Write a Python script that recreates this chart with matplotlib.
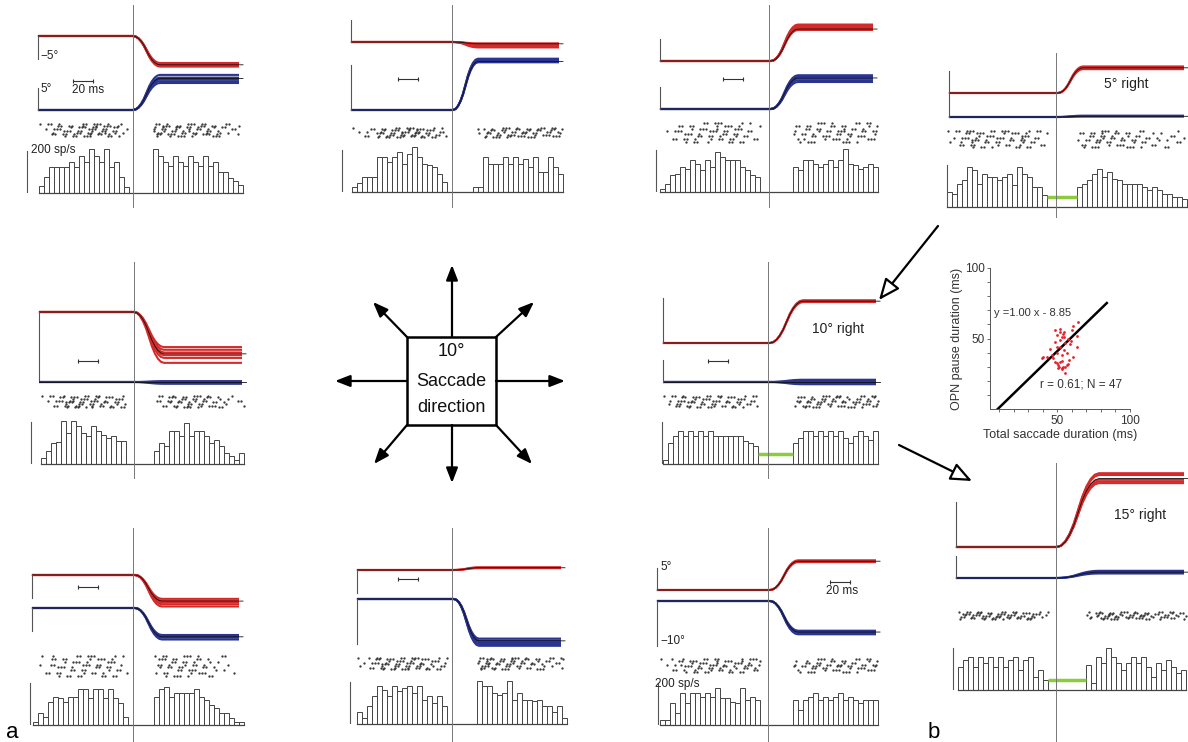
import numpy as np
import matplotlib
matplotlib.use('Agg')
import matplotlib.pyplot as plt
from matplotlib.patches import Rectangle

plt.rcParams['font.family'] = ['Liberation Sans', 'DejaVu Sans']

W, H = 1188, 742

# normalised saccade profile (time fraction, position fraction)
prof_s = [0, .1, .2, .3, .4, .5, .6, .7, .8, .9, 1.0]
prof_p = [0, .02, .08, .18, .32, .5, .68, .82, .92, .98, 1.0]

# end positions (deg) of single trials, horizontal (red) and vertical (blue)
red_trials = {
    'a1': [-6.0, -6.2, -6.4, -6.6, -6.8], 'a2': [-0.3, -0.6, -0.9, -1.2, -0.5],
    'a3': [6.9, 7.2, 7.5, 7.8, 8.1], 'b1': [-7.8, -8.4, -9.0, -9.6, -10.2, -11.3],
    'b3': [9.1, 9.3, 9.5], 'c1': [-5.3, -5.7, -6.1, -6.5, -7.0],
    'c2': [0.4, 0.6, 0.5], 'c3': [6.2, 6.4, 6.6],
    'bt': [5.3, 5.6, 5.9], 'bb': [14.2, 14.6, 15.0, 16.0, 16.4],
}
red_mean = {'a1': -6.4, 'a2': -0.4, 'a3': 7.1, 'b1': -9.3, 'b3': 9.3,
            'c1': -5.8, 'c2': 0.5, 'c3': 6.4, 'bt': 5.6, 'bb': 15.2}
blue_trials = {
    'a1': [6.0, 6.4, 6.8, 7.2, 7.8], 'a2': [10.6, 10.9, 11.2, 11.4],
    'a3': [6.0, 6.4, 6.8, 7.2, 7.5], 'b1': [-0.4, -0.2, 0.0, 0.2],
    'b3': [-0.5, -0.25, 0.0, 0.25, 0.5], 'c1': [-6.0, -6.3, -6.6, -7.0],
    'c2': [-8.8, -9.2, -9.6, -10.0, -10.4], 'c3': [-6.6, -6.9, -7.2, -7.4],
    'bt': [0.1, 0.2, 0.3], 'bb': [1.0, 1.3, 1.6],
}
blue_mean = {'a1': 7.0, 'a2': 10.8, 'a3': 6.9, 'b1': 0.0, 'b3': 0.0,
             'c1': -6.4, 'c2': -9.3, 'c3': -6.9, 'bt': 0.15, 'bb': 1.3}
sacc_onset = {'a1': 0, 'a2': 1, 'a3': 2, 'b1': 0, 'b3': 2, 'c1': 2, 'c2': 2, 'c3': 2, 'bt': 2, 'bb': 1}
sacc_dur = {'a1': 27, 'a2': 25, 'a3': 27, 'b1': 30, 'b3': 33, 'c1': 27, 'c2': 25, 'c3': 28, 'bt': 25, 'bb': 42}

# OPN pause (ms re saccade onset)
pause = {'a1': (-4, 20), 'a2': (-5, 21), 'a3': (-9, 24), 'b1': (-8, 20), 'b3': (-10, 25),
         'c1': (-5, 21), 'c2': (-5, 25), 'c3': (-8, 25), 'bt': (-9, 21), 'bb': (-8, 30)}

# firing rate (sp/s) in 5 ms bins before the pause and after it
bin_ms = 5
hist_left = {
    'a1': [35, 75, 125, 125, 125, 125, 150, 125, 180, 150, 210, 180, 150, 210, 125, 150, 75, 30],
    'a2': [24, 43, 72, 72, 72, 168, 168, 144, 168, 192, 136, 184, 216, 168, 136, 128, 120, 88, 48],
    'a3': [16, 40, 80, 88, 120, 112, 152, 136, 104, 152, 120, 192, 168, 152, 152, 152, 120, 104, 80, 72],
    'b1': [29, 61, 101, 104, 205, 149, 205, 181, 149, 133, 181, 157, 141, 125, 133, 112, 112],
    'b3': [21, 101, 133, 157, 133, 157, 133, 157, 133, 157, 133, 133, 133, 133, 133, 133, 109, 101, 85],
    'c1': [16, 56, 40, 112, 136, 128, 112, 136, 136, 171, 171, 128, 171, 171, 128, 171, 128, 104, 40],
    'c2': [56, 29, 85, 133, 181, 165, 133, 181, 157, 173, 181, 149, 181, 117, 133, 101, 133, 85],
    'c3': [24, 24, 104, 56, 152, 104, 152, 152, 136, 152, 136, 176, 128, 128, 112, 104, 176, 120, 136, 120],
    'bt': [72, 64, 112, 128, 192, 176, 112, 160, 144, 144, 128, 144, 160, 104, 192, 160, 144, 96, 96, 56],
    'bb': [112, 144, 160, 112, 160, 128, 160, 112, 160, 112, 144, 160, 96, 144, 160, 64, 96, 48],
}
hist_right = {
    'a1': [210, 180, 150, 130, 180, 150, 130, 180, 150, 130, 180, 130, 150, 100, 100, 70, 60, 40],
    'a2': [24, 24, 168, 136, 136, 136, 168, 136, 168, 136, 160, 120, 168, 96, 96, 168, 120, 88],
    'a3': [120, 104, 152, 152, 136, 120, 136, 152, 120, 152, 208, 136, 128, 112, 120, 136, 120],
    'b1': [61, 101, 85, 157, 157, 133, 197, 133, 157, 157, 133, 101, 117, 85, 53, 37, 21, 53],
    'b3': [101, 125, 157, 157, 133, 157, 133, 157, 133, 157, 125, 101, 133, 157, 133, 117, 157],
    'c1': [136, 171, 184, 136, 152, 152, 152, 152, 171, 136, 120, 96, 80, 56, 56, 32, 16, 16],
    'c2': [205, 181, 181, 149, 141, 149, 205, 117, 149, 117, 117, 109, 117, 85, 85, 60, 85, 29],
    'c3': [120, 72, 120, 136, 152, 120, 136, 120, 136, 152, 120, 136, 120, 104, 120, 120, 120],
    'bt': [96, 112, 128, 160, 184, 144, 168, 136, 128, 112, 112, 112, 112, 96, 80, 96, 80, 64, 64, 48, 48, 40],
    'bb': [120, 32, 160, 128, 200, 160, 128, 96, 128, 160, 128, 160, 112, 64, 128, 96, 144, 112, 80, 96],
}
pause_panels = ['b3', 'bt', 'bb']

# scatter: total saccade duration vs OPN pause duration (ms)
sac_dur = [48.3, 51.7, 49.4, 52.9, 54.5, 57.5, 60.9, 64.4, 63.2, 55.2, 58.6, 44.8, 42.5, 47.1,
           49.4, 51.7, 50.6, 52.9, 55.2, 56.4, 52.9, 54.5, 51.7, 49.4, 48.3, 51.7, 56.4, 63.2,
           55.2, 52.9, 58.0, 50.6, 54.5, 60.0, 60.9, 40.2, 39.1, 53.5, 52.0, 50.0, 46.0, 53.0,
           57.0, 54.0, 48.0, 51.0, 59.0]
pause_dur = [56.0, 54.8, 52.5, 50.8, 50.8, 49.4, 58.9, 61.9, 51.8, 46.6, 46.1, 42.3, 36.6, 35.9,
             32.4, 33.6, 28.8, 28.8, 29.5, 31.2, 38.3, 41.8, 44.2, 44.2, 47.7, 48.9, 39.5, 44.2,
             25.3, 28.2, 34.8, 31.2, 54.8, 56.0, 37.1, 36.6, 35.9, 53.0, 57.0, 40.0, 38.0, 34.0,
             32.0, 30.0, 33.0, 30.0, 48.0]
fit_slope, fit_icpt = 1.00, -8.85
fit_x = [8.85, 84]

# layout in pixels: vline x, trace span (ms), vline extent, trace baselines,
# raster band, histogram baseline, scale bars
layout = {
    'a1': dict(vx=133, tl=-95, tr=110, v=(5, 207), ry=36, by=110, rast=(123, 137), base=193, rbar=-5, bbar=5, hb=27, ms=(73, 81)),
    'a2': dict(vx=452, tl=-101, tr=111, v=(5, 207), ry=42, by=110, rast=(127, 138), base=192, rbar=5, bbar=10, hb=342, ms=(398, 79)),
    'a3': dict(vx=769, tl=-109, tr=108, v=(5, 207), ry=61, by=109, rast=(122, 143), base=192, rbar=5, bbar=5, hb=656, ms=(723, 79)),
    'b1': dict(vx=134, tl=-95, tr=112, v=(262, 478), ry=312, by=382, rast=(395, 408), base=464, rbar=-15, bbar=0, hb=31, ms=(78, 361)),
    'b3': dict(vx=768, tl=-105, tr=112, v=(262, 478), ry=343, by=382, rast=(395, 408), base=464, rbar=10, bbar=5, hb=662, ms=(708, 361)),
    'c1': dict(vx=133, tl=-101, tr=110, v=(528, 742), ry=575, by=608, rast=(655, 677), base=725, rbar=-5, bbar=-5, hb=30, ms=(78, 587)),
    'c2': dict(vx=452, tl=-95, tr=113, v=(528, 742), ry=570, by=599, rast=(657, 670), base=724, rbar=-5, bbar=-10, hb=350, ms=(398, 579)),
    'c3': dict(vx=768, tl=-111, tr=112, v=(528, 742), ry=590, by=601, rast=(658, 673), base=725, rbar=5, bbar=-10, hb=658, ms=(830, 582)),
    'bt': dict(vx=1056, tl=-107, tr=132, v=(53, 217), ry=93, by=117, rast=(130, 148), base=207, rbar=5, bbar=5, hb=947, ms=None),
    'bb': dict(vx=1056, tl=-100, tr=132, v=(463, 742), ry=547, by=578, rast=(611, 620), base=690, rbar=10, bbar=5, hb=953, ms=None),
}

PPD = 4.5          # pixels per degree
X0, X1 = -115, 135  # ms span of every panel axes (1 px per ms)
RED, BLUE, GREEN, GREY = '#d42a2a', '#2b3590', '#8ccc3c', '#555555'


def rect(x0, y0, x1, y1):
    return [x0 / W, 1 - y1 / H, (x1 - x0) / W, (y1 - y0) / H]


def panel_ax(vx, ytop, ybot, ylim):
    ax = fig.add_axes(rect(vx + X0, ytop, vx + X1, ybot))
    ax.set_xlim(X0, X1)
    ax.set_ylim(*ylim)
    ax.axis('off')
    return ax


def trace_xy(tl, tr, onset, dur, amp):
    t = [tl, onset] + [onset + s * dur for s in prof_s[1:]] + [tr]
    y = [0, 0] + [amp * p for p in prof_p[1:]] + [amp]
    return t, y


def raster_from_hist(edges, rates, nrows=8):
    ts, rows = [], []
    for i, (e, r) in enumerate(zip(edges, rates)):
        for k in range(int(round(r / 32))):
            rows.append((3 * i + 5 * k) % nrows)
            ts.append(e + 0.5 + ((2 * k + i) % 5))
    return ts, rows


fig = plt.figure(figsize=(W / 100, H / 100), dpi=100)

for key, L in layout.items():
    vx, tl, tr = L['vx'], L['tl'], L['tr']
    on, dur = sacc_onset[key], sacc_dur[key]
    # eye position traces
    for y0, trials, mean, col, bar in [(L['ry'], red_trials[key], red_mean[key], RED, L['rbar']),
                                       (L['by'], blue_trials[key], blue_mean[key], BLUE, L['bbar'])]:
        ax = panel_ax(vx, y0 - 90, y0 + 90, (-90 / PPD, 90 / PPD))
        for amp in trials:
            t, y = trace_xy(tl, tr - 4, on, dur, amp)
            ax.plot(t, y, color=col, lw=1.5, solid_capstyle='butt')
        t, y = trace_xy(tl, tr, on, dur, mean)
        ax.plot(t, y, color='#111111', lw=0.6)
        if bar:
            ax.plot([tl, tl], [0, bar], color=GREY, lw=0.8)
    # histogram
    p0, p1 = pause[key]
    hl, hr = hist_left[key], hist_right[key]
    el = [p0 - bin_ms * (len(hl) - i) for i in range(len(hl))]
    er = [p1 + bin_ms * i for i in range(len(hr))]
    ax = panel_ax(vx, L['base'] - 50, L['base'], (0, 240))
    ax.bar(el + er, hl + hr, width=bin_ms, align='edge', facecolor='white',
           edgecolor='#444444', lw=0.7, clip_on=False)
    ax.plot([min(el), max(er) + bin_ms], [0, 0], color='#444444', lw=0.9, clip_on=False)
    ax.plot([L['hb'] - vx] * 2, [0, 200], color=GREY, lw=0.8)
    if key in pause_panels:
        ax.plot([p0, p1], [50, 50], color=GREEN, lw=2.5, solid_capstyle='butt')
    # raster
    rt, rb = L['rast']
    ax = panel_ax(vx, rt, rb, (7.5, -0.5))
    ts, rows = raster_from_hist(el + er, hl + hr)
    ax.plot(ts, rows, ls='none', marker='.', ms=1.3, color='#333333')

# scatter of pause vs saccade duration
sx = fig.add_axes(rect(990, 268, 1130, 409))
sx.scatter(sac_dur, pause_dur, s=4, color='#e8202a', zorder=3, linewidths=0)
fx = np.array(fit_x)
sx.plot(fx, fit_slope * fx + fit_icpt, color='black', lw=1.8)
sx.set_xlim(3.5, 100)
sx.set_ylim(0, 100)
for s in ['top', 'right']:
    sx.spines[s].set_visible(False)
for s in ['left', 'bottom']:
    sx.spines[s].set_color('#555555')
    sx.spines[s].set_linewidth(0.7)
sx.set_xticks([50, 100])
sx.set_yticks([50, 100])
sx.set_xticks(range(10, 100, 10), minor=True)
sx.set_yticks(range(10, 100, 10), minor=True)
sx.tick_params(which='both', direction='out', length=2.5, width=0.6, color='#555555',
               labelsize=8.5, pad=1.5, labelcolor='#333333')
sx.tick_params(which='minor', length=2)
sx.set_xlabel('Total saccade duration (ms)', fontsize=9, labelpad=2, color='#333333')
sx.set_ylabel('OPN pause duration (ms)', fontsize=9, labelpad=1, color='#333333')
sx.patch.set_alpha(0)
sx.text(6, 66, 'y =1.00 x - 8.85', fontsize=8, color='#333333')
sx.text(38, 15, 'r = 0.61; N = 47', fontsize=8.5, color='#333333')

# overlay: vertical saccade-onset lines, scale bars, labels, direction diagram, arrows
ov = fig.add_axes([0, 0, 1, 1])
ov.set_xlim(0, W)
ov.set_ylim(H, 0)
ov.axis('off')
for key, L in layout.items():
    ov.plot([L['vx']] * 2, L['v'], color='#777777', lw=0.7)
    if L['ms']:
        mx, my = L['ms']
        ov.plot([mx, mx + 20], [my, my], color='#333333', lw=0.8, marker='|', ms=3, mew=0.8)

tk = dict(color='#222222', fontsize=8.5, va='center')
ov.text(40, 56, '−5°', **tk)
ov.text(40, 89, '5°', **tk)
ov.text(72, 90, '20 ms', **tk)
ov.text(31, 150, '200 sp/s', **tk)
ov.text(660, 567, '5°', **tk)
ov.text(660, 641, '−10°', **tk)
ov.text(826, 591, '20 ms', **tk)
ov.text(655, 684, '200 sp/s', **tk)
ov.text(812, 329, '10° right', color='#222222', fontsize=10, va='center')
ov.text(1104, 84, '5° right', color='#222222', fontsize=10, va='center')
ov.text(1114, 515, '15° right', color='#222222', fontsize=10, va='center')
ov.text(6, 733, 'a', fontsize=16, va='center')
ov.text(928, 733, 'b', fontsize=16, va='center')

ov.add_patch(Rectangle((407, 337), 89, 88, fill=False, lw=1.8, ec='black'))
for line, yy in [('10°', 352), ('Saccade', 381), ('direction', 408)]:
    ov.text(451.5, yy, line, fontsize=13, ha='center', va='center', color='#111111')
star = [((452, 337), (452, 265)), ((452, 425), (452, 483)), ((407, 381), (335, 381)),
        ((496, 381), (565, 381)), ((407, 337), (373, 302)), ((496, 337), (534, 302)),
        ((407, 425), (374, 464)), ((496, 425), (532, 464))]
for tail, tip in star:
    ov.annotate('', xy=tip, xytext=tail,
                arrowprops=dict(arrowstyle='-|>,head_length=0.9,head_width=0.35',
                                color='black', lw=1.6, shrinkA=0, shrinkB=0))
for tail, tip in [((938, 226), (879, 300)), ((899, 445), (972, 481))]:
    ov.annotate('', xy=tip, xytext=tail,
                arrowprops=dict(arrowstyle='-|>,head_length=1.3,head_width=0.55',
                                fc='white', ec='black', lw=1.6, shrinkA=0, shrinkB=0))

fig.savefig('out.png', dpi=100)
